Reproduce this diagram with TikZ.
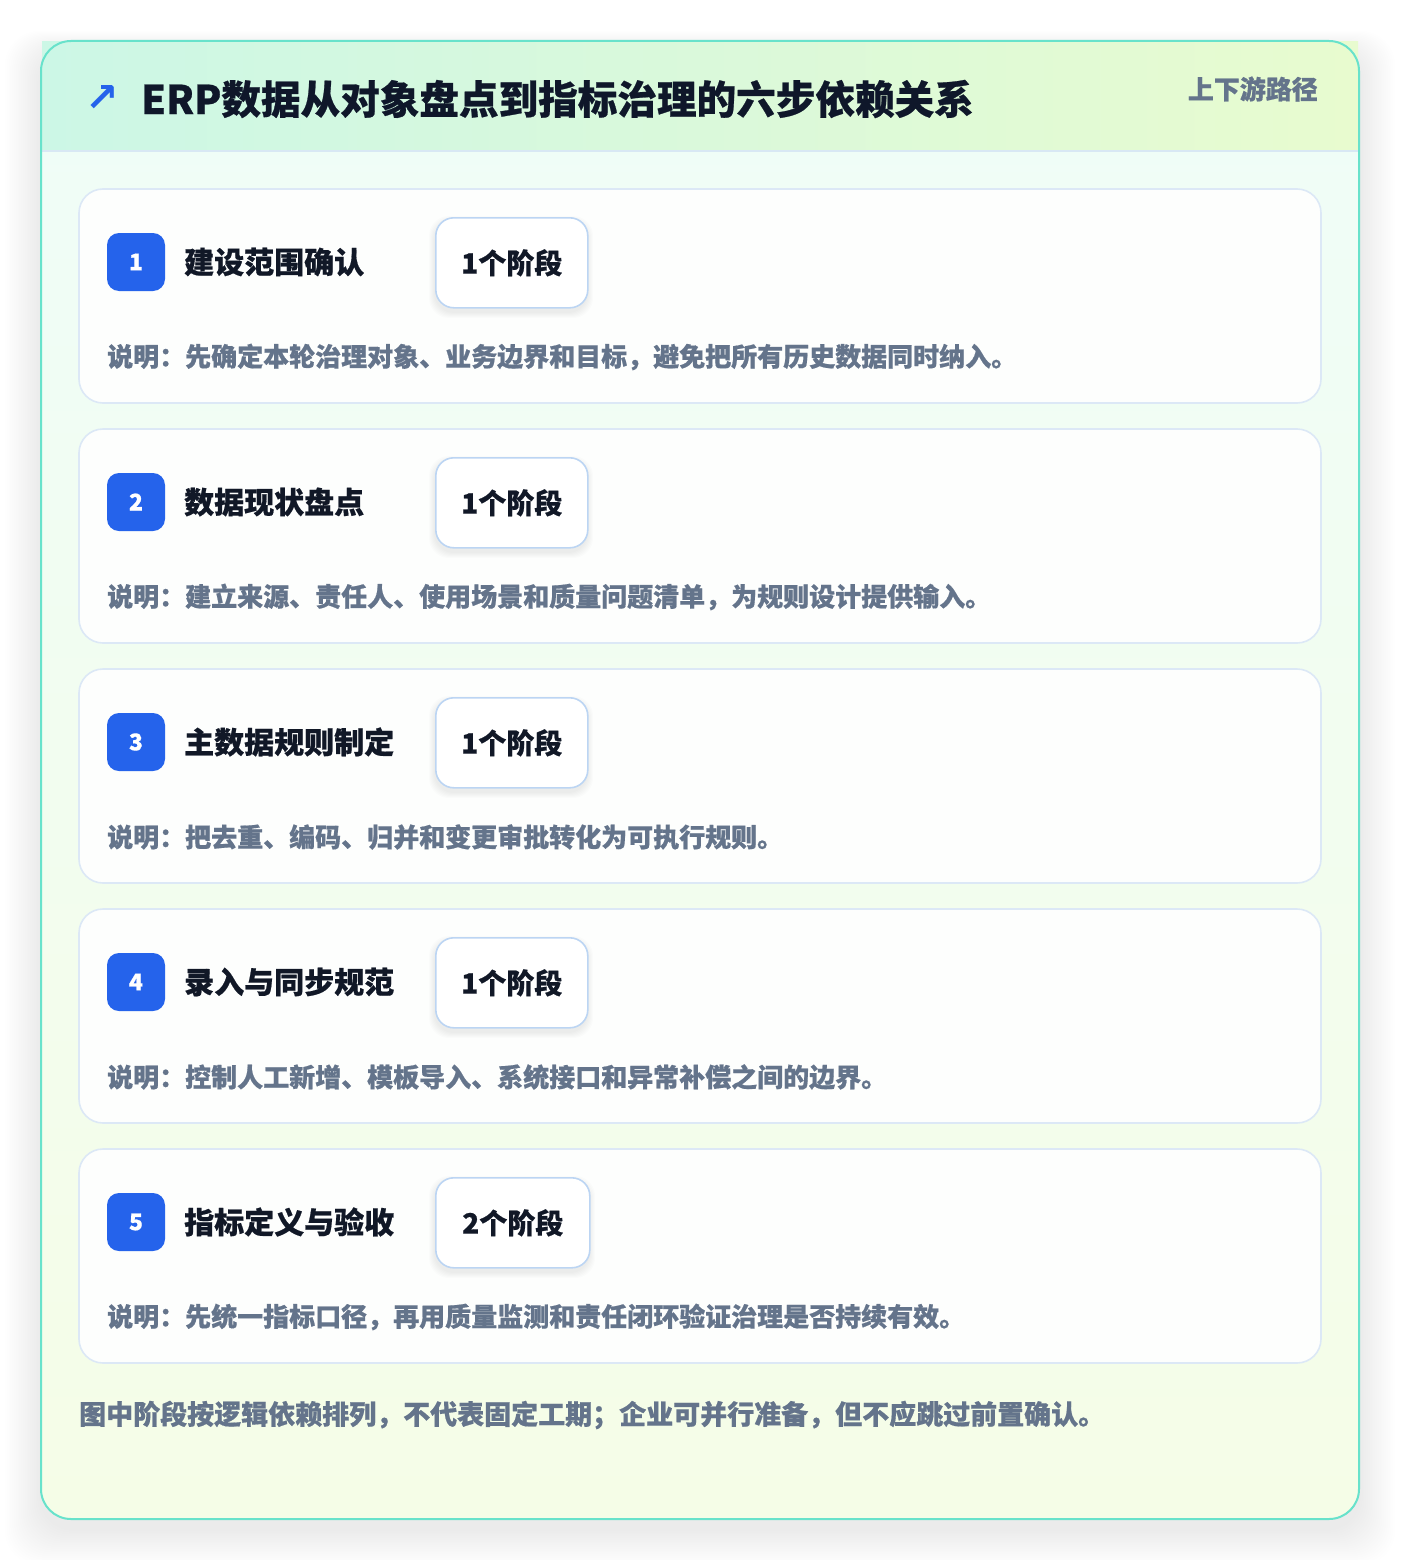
\documentclass[tikz,border=0pt]{standalone}
\usepackage{fontspec}
\setmainfont{Noto Sans CJK SC}[BoldFeatures={FakeBold=0.6}]
\newfontfamily\symfont{DejaVu Sans}
\usetikzlibrary{shadings}
\definecolor{pagebg}{HTML}{FFFFFF}
\definecolor{teal}{HTML}{68E2CB}
\definecolor{hdrL}{HTML}{CCF7E6}
\definecolor{hdrR}{HTML}{E8FBCF}
\definecolor{bodyT}{HTML}{EFFDF8}
\definecolor{bodyB}{HTML}{F5FDE7}
\definecolor{hdrline}{HTML}{D8E8F4}
\definecolor{cardfill}{HTML}{FDFEFD}
\definecolor{cardline}{HTML}{DCE8F6}
\definecolor{badgeline}{HTML}{BCD5F3}
\definecolor{numblue}{HTML}{2563EB}
\definecolor{titleink}{HTML}{0F172A}
\definecolor{cardink}{HTML}{111827}
\definecolor{greyink}{HTML}{64748B}
\tikzset{
  cardbox/.style={draw=cardline, line width=1.6pt, fill=cardfill, rounded corners=24pt},
  badgebox/.style={draw=badgeline, line width=1.6pt, fill=white, rounded corners=18pt,
     minimum width=152pt, minimum height=90pt, inner sep=0pt, anchor=north west,
     font=\fontsize{28}{30}\selectfont\bfseries, text=cardink},
  numbox/.style={fill=numblue, rounded corners=12pt, minimum width=58pt, minimum height=58pt,
     inner sep=0pt, text=white, font=\fontsize{23}{25}\selectfont\bfseries},
  cardtitle/.style={anchor=west, inner sep=0pt, text=cardink, font=\fontsize{30}{32}\selectfont\bfseries},
  desctext/.style={anchor=west, inner sep=0pt, text=greyink, font=\fontsize{26}{28}\selectfont\bfseries},
}
\begin{document}
\begin{tikzpicture}[x=1pt,y=-1pt]
\useasboundingbox (0,0) rectangle (1400,1560);
\fill[pagebg] (0,0) rectangle (1400,1560);
% panel shadow
\foreach \i in {1,...,20}{
  \fill[black, opacity=0.004, rounded corners=34pt] (41-\i*1.8,41-\i*1.0+10) rectangle (1359+\i*1.8,1519+\i*1.8+10);
}
% panel body
\shade[top color=bodyT, bottom color=bodyB, rounded corners=30pt] (41,41) rectangle (1359,1519);
% header band
\shade[left color=hdrL, right color=hdrR] (42,42) rectangle (1358,151);
\draw[hdrline, line width=1.6pt] (42,151) -- (1358,151);
% panel border
\draw[teal, line width=2pt, rounded corners=30pt] (41,41) rectangle (1359,1519);
% header texts
\node[anchor=center, inner sep=0pt, text=numblue, font=\symfont\fontsize{40}{40}\selectfont\bfseries] (icon) at (102,99) {↗};
\node[anchor=west, inner sep=0pt, text=titleink, font=\fontsize{39.6}{41}\selectfont\bfseries] (title) at (141,99) {ERP数据从对象盘点到指标治理的六步依赖关系};
\node[anchor=east, inner sep=0pt, text=greyink, font=\fontsize{26}{28}\selectfont\bfseries] (route) at (1318,89) {上下游路径};
% cards
\foreach \k/\t/\b/\d/\bw in {
  0/建设范围确认/1个阶段/说明：先确定本轮治理对象、业务边界和目标，避免把所有历史数据同时纳入。/152,
  1/数据现状盘点/1个阶段/说明：建立来源、责任人、使用场景和质量问题清单，为规则设计提供输入。/152,
  2/主数据规则制定/1个阶段/说明：把去重、编码、归并和变更审批转化为可执行规则。/152,
  3/录入与同步规范/1个阶段/说明：控制人工新增、模板导入、系统接口和异常补偿之间的边界。/152,
  4/指标定义与验收/2个阶段/说明：先统一指标口径，再用质量监测和责任闭环验证治理是否持续有效。/154}{
  \pgfmathsetmacro{\top}{189+240*\k}
  \draw[cardbox] (79,\top) rectangle (1321,\top+214);
  % badge shadow
  \foreach \j in {1,...,6}{
    \fill[black, opacity=0.010, rounded corners=20pt] (435-\j,\top+28-\j+5) rectangle (435+\bw+\j,\top+118+\j+5);
  }
  \node[numbox] (num\k) at (136,\top+73) {\pgfmathparse{int(\k+1)}\pgfmathresult};
  \node[cardtitle] (ct\k) at (184,\top+73) {\t};
  \node[badgebox, minimum width=\bw pt] (bd\k) at (435,\top+28) {\b};
  \node[desctext] (ds\k) at (107,\top+168) {\d};
}
% footer
\node[anchor=west, inner sep=0pt, text=greyink, font=\fontsize{27}{29}\selectfont\bfseries] (foot) at (79,1415) {图中阶段按逻辑依赖排列，不代表固定工期；企业可并行准备，但不应跳过前置确认。};
\end{tikzpicture}
\end{document}
